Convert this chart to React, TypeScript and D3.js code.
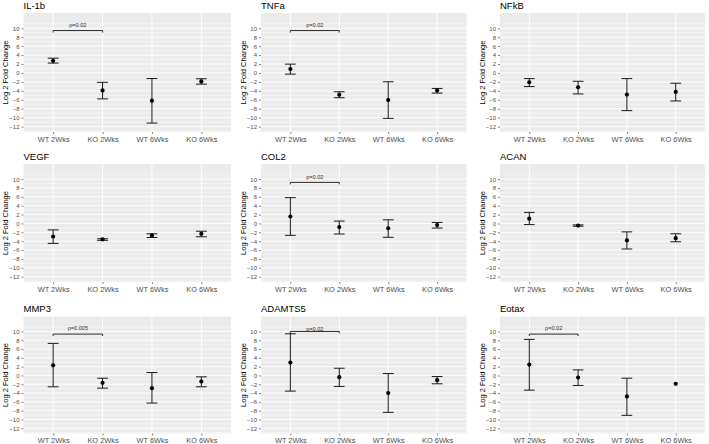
import { useEffect, useRef } from "react"
import * as d3 from "d3"

const groups = ["WT 2Wks", "KO 2Wks", "WT 6Wks", "KO 6Wks"]
const genes = ["IL-1b", "TNFa", "NFkB", "VEGF", "COL2", "ACAN", "MMP3", "ADAMTS5", "Eotax"]

// mean log2 fold change per gene (rows) and group (columns)
const means = [
  [2.7, -3.9, -6.2, -1.9],
  [0.86, -4.87, -6.06, -3.9],
  [-2.08, -3.2, -4.84, -4.24],
  [-2.94, -3.6, -2.7, -2.34],
  [1.57, -0.81, -1.11, -0.36],
  [1.08, -0.48, -3.83, -3.31],
  [2.31, -1.68, -2.89, -1.38],
  [2.92, -0.4, -4.02, -1.08],
  [2.46, -0.47, -4.77, -1.9],
]
const lowers = [
  [2.2, -5.8, -11.2, -2.5],
  [-0.26, -5.54, -10.15, -4.5],
  [-3.05, -4.69, -8.42, -6.26],
  [-4.5, -3.8, -3.16, -3.0],
  [-2.68, -2.38, -3.12, -1.04],
  [-0.26, -0.63, -5.76, -4.13],
  [-2.58, -2.89, -6.28, -2.58],
  [-3.56, -2.5, -8.39, -1.9],
  [-3.34, -2.28, -9.07, null],
]
const uppers = [
  [3.3, -2.1, -1.25, -1.3],
  [1.97, -4.2, -1.97, -3.46],
  [-1.26, -1.86, -1.26, -2.3],
  [-1.45, -3.45, -2.34, -1.75],
  [5.82, 0.53, 0.82, 0.23],
  [2.49, -0.33, -1.9, -2.34],
  [7.29, -0.63, 0.66, -0.32],
  [9.47, 1.64, 0.43, -0.25],
  [8.19, 1.26, -0.63, null],
]

// WT 2Wks vs KO 2Wks comparison
const pLabels = ["p=0.02", "p=0.02", null, null, "p=0.02", null, "p=0.005", "p=0.02", "p=0.02"]
const bracketY = [9.48, 9.48, null, null, 9.25, null, 9.4, 10, 9.4]
const pLabelY = [10.75, 10.75, null, null, 10.52, null, 10.75, 10.6, 10.75]

const yTicks = d3.range(-12, 11, 2)
const yMinor = d3.range(-13, 12, 2)

const colLeft = [23.5, 261, 500]
const colWidth = [207.5, 205.5, 205]
const rowTop = [13, 164, 316.5]
const rowHeight = [119, 118, 117]

const font = "'Liberation Sans', Arial, sans-serif"

export default function App() {
  const ref = useRef<SVGSVGElement>(null)

  useEffect(() => {
    const svg = d3.select(ref.current)
    svg.selectAll("*").remove()

    genes.forEach((gene, gi) => {
      const col = gi % 3
      const row = Math.floor(gi / 3)
      const w = colWidth[col]
      const h = rowHeight[row]
      const g = svg.append("g").attr("transform", `translate(${colLeft[col]},${rowTop[row]})`)

      const x = d3.scalePoint().domain(groups).range([0, w]).padding(0.6)
      const y = d3.scaleLinear().domain([-13.2, 13.4]).range([h, 0])

      g.append("rect").attr("width", w).attr("height", h).attr("fill", "#EBEBEB")

      g.selectAll(".minor")
        .data(yMinor)
        .enter()
        .append("line")
        .attr("x1", 0)
        .attr("x2", w)
        .attr("y1", (d) => y(d))
        .attr("y2", (d) => y(d))
        .attr("stroke", "#fff")
        .attr("stroke-width", 0.5)

      g.selectAll(".major")
        .data(yTicks)
        .enter()
        .append("line")
        .attr("x1", 0)
        .attr("x2", w)
        .attr("y1", (d) => y(d))
        .attr("y2", (d) => y(d))
        .attr("stroke", "#fff")
        .attr("stroke-width", 1)

      g.selectAll(".vmajor")
        .data(groups)
        .enter()
        .append("line")
        .attr("x1", (d) => x(d)!)
        .attr("x2", (d) => x(d)!)
        .attr("y1", 0)
        .attr("y2", h)
        .attr("stroke", "#fff")
        .attr("stroke-width", 1)

      // axes
      const yAxis = g.append("g").call(d3.axisLeft(y).tickValues(yTicks).tickSize(2).tickPadding(2))
      const xAxis = g
        .append("g")
        .attr("transform", `translate(0,${h})`)
        .call(d3.axisBottom(x).tickSize(2).tickPadding(2.5))
      ;[yAxis, xAxis].forEach((ax) => {
        ax.select(".domain").remove()
        ax.selectAll(".tick line").attr("stroke", "#333").attr("stroke-width", 0.6)
        ax.selectAll(".tick text").attr("fill", "#4D4D4D").style("font-family", font)
      })
      yAxis.selectAll(".tick text").style("font-size", "6px")
      xAxis.selectAll(".tick text").style("font-size", "7.4px")

      g.append("text")
        .attr("transform", `translate(-18,${h / 2}) rotate(-90)`)
        .attr("text-anchor", "middle")
        .attr("dominant-baseline", "central")
        .style("font-family", font)
        .style("font-size", "7.5px")
        .attr("fill", "#000")
        .text("Log 2 Fold Change")

      g.append("text")
        .attr("x", 0)
        .attr("y", -4.5)
        .style("font-family", font)
        .style("font-size", "9.5px")
        .attr("fill", "#000")
        .text(gene)

      // error bars
      const cap = x.step() * 0.11
      const bars = groups
        .map((grp, i) => ({ grp, lo: lowers[gi][i], hi: uppers[gi][i] }))
        .filter((d) => d.lo != null && d.hi != null)
      const eb = g.selectAll(".eb").data(bars).enter().append("g").attr("stroke", "#1a1a1a").attr("stroke-width", 1)
      eb.append("line")
        .attr("x1", (d) => x(d.grp)!)
        .attr("x2", (d) => x(d.grp)!)
        .attr("y1", (d) => y(d.lo as number))
        .attr("y2", (d) => y(d.hi as number))
      eb.append("line")
        .attr("x1", (d) => x(d.grp)! - cap)
        .attr("x2", (d) => x(d.grp)! + cap)
        .attr("y1", (d) => y(d.lo as number))
        .attr("y2", (d) => y(d.lo as number))
      eb.append("line")
        .attr("x1", (d) => x(d.grp)! - cap)
        .attr("x2", (d) => x(d.grp)! + cap)
        .attr("y1", (d) => y(d.hi as number))
        .attr("y2", (d) => y(d.hi as number))

      g.selectAll(".pt")
        .data(groups)
        .enter()
        .append("circle")
        .attr("cx", (d) => x(d)!)
        .attr("cy", (d, i) => y(means[gi][i]))
        .attr("r", 2.1)
        .attr("fill", "#000")

      // significance bracket
      const by = bracketY[gi]
      if (by != null) {
        const x1 = x(groups[0])!
        const x2 = x(groups[1])!
        g.append("path")
          .attr("d", `M${x1},${y(by - 0.45)}V${y(by)}H${x2}V${y(by - 0.45)}`)
          .attr("fill", "none")
          .attr("stroke", "#1a1a1a")
          .attr("stroke-width", 0.9)
        g.append("text")
          .attr("x", (x1 + x2) / 2)
          .attr("y", y(pLabelY[gi] as number))
          .attr("text-anchor", "middle")
          .attr("dominant-baseline", "central")
          .style("font-family", font)
          .style("font-size", "5.6px")
          .attr("fill", "#333")
          .text(pLabels[gi] as string)
      }
    })
  }, [])

  return (
    <svg
      ref={ref}
      width={709}
      height={444}
      style={{ position: "absolute", left: 0, top: 0, background: "#fff" }}
    />
  )
}
